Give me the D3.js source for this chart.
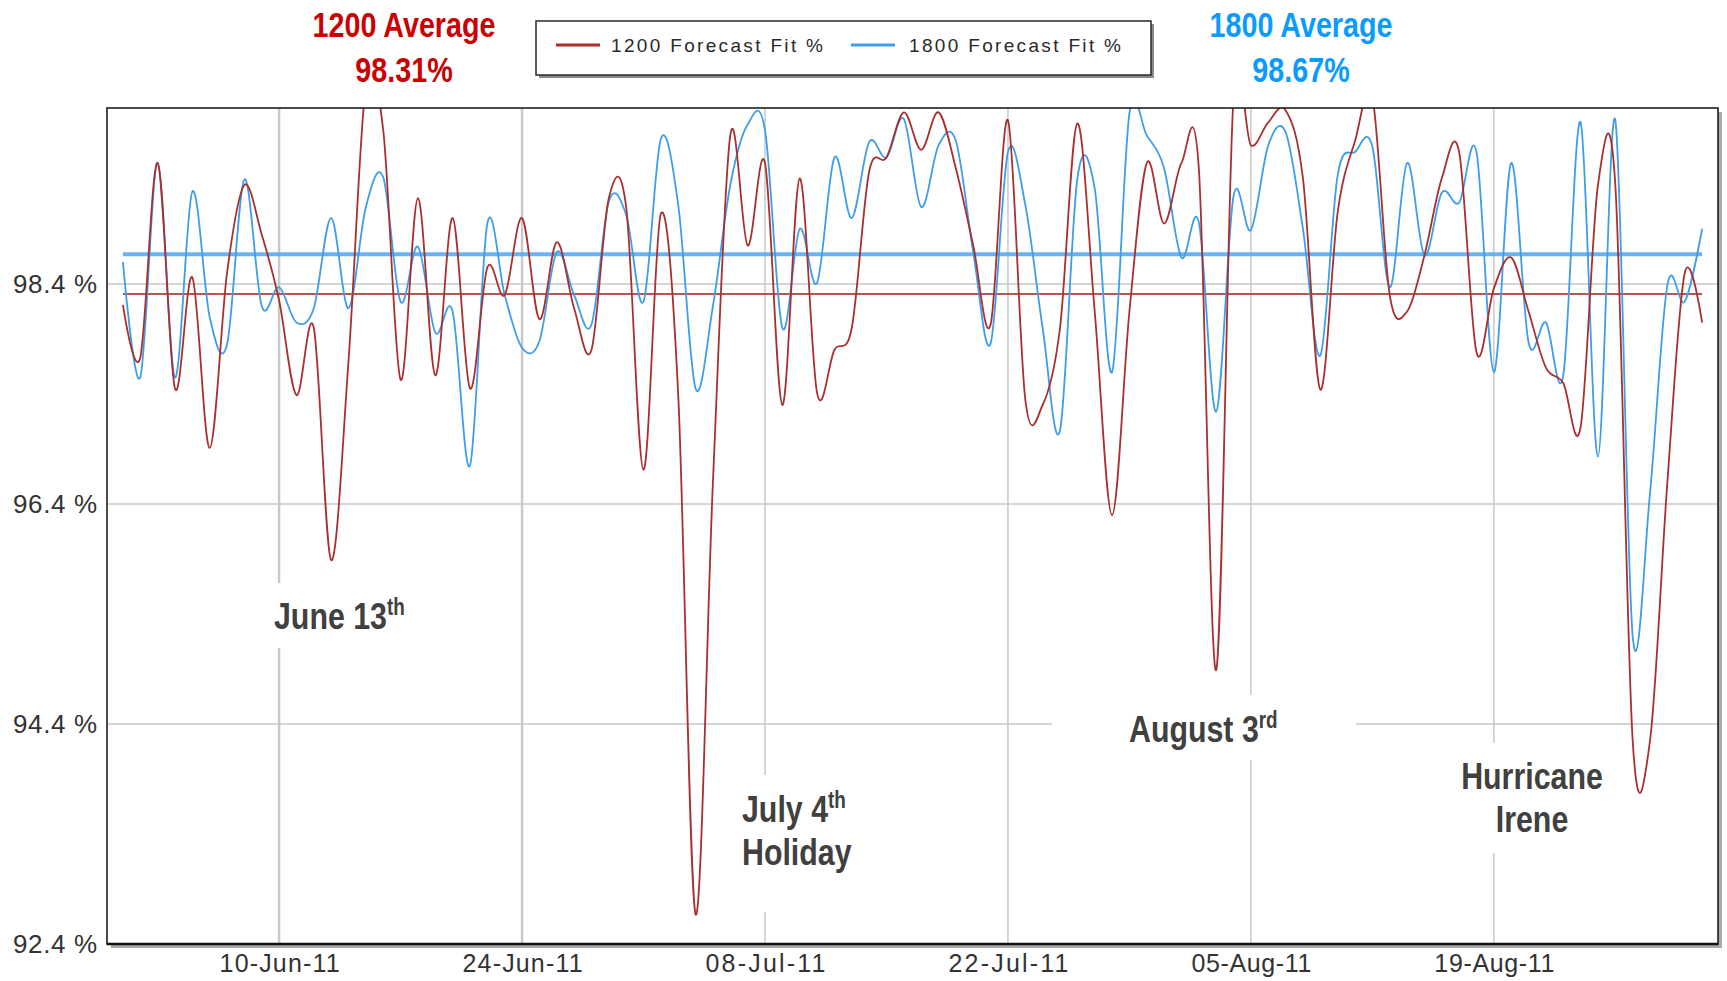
<!DOCTYPE html>
<html>
<head>
<meta charset="utf-8">
<script src="https://cdn.jsdelivr.net/npm/d3@7"></script>
<style>
  html, body { margin: 0; padding: 0; background: #fff; }
  svg { display: block; }
  text { font-family: "Liberation Sans", Arial, sans-serif; }
</style>
</head>
<body>
<svg id="chart" width="1727" height="981"></svg>
<script>
// --- 1. DATA ---
// one reading per day, 1-Jun-11 .. 31-Aug-11
var startDate = new Date(2011, 5, 1);

var fit1200 = [
  98.21, 97.73, 99.50, 97.45, 98.46, 96.91, 98.50, 99.30, 98.85, 98.25,   // 1-10 Jun
  97.39, 98.00, 95.89, 97.70, 100.20, 99.80, 97.53, 99.18, 97.57, 99.00,  // 11-20 Jun
  97.45, 98.55, 98.30, 99.00, 98.08, 98.78, 98.18, 97.80, 99.18, 99.10,   // 21-30 Jun
  96.71, 99.04, 97.39, 92.67, 96.60, 99.75, 98.75, 99.50, 97.30, 99.36,   // 1-10 Jul
  97.41, 97.80, 98.00, 99.42, 99.55, 99.96, 99.62, 99.96, 99.45, 98.75,   // 11-20 Jul
  98.03, 99.89, 97.35, 97.30, 98.00, 99.86, 98.15, 96.30, 98.15, 99.50,   // 21-30 Jul
  98.95, 99.50, 99.45, 94.89, 100.10, 99.66, 99.87, 99.98, 99.36, 97.44,  // 31 Jul - 9 Aug
  99.05, 99.70, 100.10, 98.30, 98.15, 98.66, 99.36, 99.60, 97.78, 98.36,  // 10-19 Aug
  98.64, 98.15, 97.64, 97.50, 97.10, 99.30, 99.30, 94.25, 94.25, 96.60,   // 20-29 Aug
  98.50, 98.05                                                            // 30-31 Aug
];

var fit1800 = [
  98.60, 97.55, 99.50, 97.55, 99.24, 98.10, 97.85, 99.35, 98.20, 98.37,
  98.05, 98.18, 99.00, 98.18, 99.10, 99.37, 98.24, 98.74, 97.96, 98.15,
  96.75, 98.95, 98.30, 97.82, 97.88, 98.69, 98.30, 98.03, 99.15, 99.03,
  98.24, 99.72, 99.12, 97.45, 98.20, 99.30, 99.85, 99.80, 98.00, 98.90,
  98.41, 99.55, 99.00, 99.69, 99.55, 99.90, 99.10, 99.66, 99.70, 98.69,
  97.86, 99.60, 99.12, 98.00, 97.07, 99.36, 99.27, 97.60, 99.95, 99.75,
  99.45, 98.64, 98.96, 97.24, 99.20, 98.89, 99.66, 99.78, 98.90, 97.75,
  99.39, 99.60, 99.65, 98.37, 99.50, 98.66, 99.23, 99.14, 99.60, 97.60,
  99.50, 97.87, 98.05, 97.57, 99.87, 96.83, 99.89, 95.20, 96.50, 98.39,
  98.24, 98.90
];

var avg1200 = 98.31;
var avg1800 = 98.67;

var seriesNames = ["1200 Forecast Fit %", "1800 Forecast Fit %"];
var yTicks = [92.4, 94.4, 96.4, 98.4];
var xTickDates = ["2011-06-10", "2011-06-24", "2011-07-08", "2011-07-22", "2011-08-05", "2011-08-19"];

// annotation text: [main, superscript] per line
var notes = [
  { lines: [["June 13", "th"]] },
  { lines: [["July 4", "th"], ["Holiday", ""]] },
  { lines: [["August 3", "rd"]] },
  { lines: [["Hurricane", ""], ["Irene", ""]] }
];

// --- 2. CONFIG ---
var plot = { left: 107, right: 1718, top: 108, bottom: 944 };

var colRed = "#a8302e";
var colBlue = "#3f9de9";
var colRedAvg = "#b04542";
var colBlueAvg = "#5aaaf0";
var colGrid = "#c9c9c9";
var colNote = "#404040";
var narrowX = 0.82;   // squeeze factor to get an "Arial Narrow" look

// white boxes + anchor for each note (pixel layout)
var notePlace = [
  { box: [262, 583, 158, 65], x: 274, y: 629, anchor: "start" },
  { box: [712, 775, 140, 137], x: 742, y: 822, anchor: "start" },
  { box: [1052, 695, 304, 65], x: 1129, y: 742, anchor: "start" },
  { box: [1450, 743, 165, 110], x: 1532, y: 789, anchor: "middle" }
];

var dates = fit1200.map(function(d, i) { return d3.timeDay.offset(startDate, i); });
var parse = d3.timeParse("%Y-%m-%d");

// --- 3. SCALES ---
var x = d3.scaleTime()
  .domain([d3.timeHour.offset(startDate, -22), d3.timeHour.offset(dates[dates.length - 1], 22)])
  .range([plot.left, plot.right]);

var y = d3.scaleLinear()
  .domain([92.4, 100])
  .range([plot.bottom, plot.top]);

var svg = d3.select("#chart");

// --- 4. FRAME ---
svg.append("rect")
  .attr("x", plot.left + 4).attr("y", plot.top + 4)
  .attr("width", plot.right - plot.left).attr("height", plot.bottom - plot.top)
  .attr("fill", "#a9a9a9");
svg.append("rect")
  .attr("x", plot.left).attr("y", plot.top)
  .attr("width", plot.right - plot.left).attr("height", plot.bottom - plot.top)
  .attr("fill", "#fff");

svg.append("defs").append("clipPath").attr("id", "plotClip")
  .append("rect")
  .attr("x", plot.left).attr("y", plot.top)
  .attr("width", plot.right - plot.left).attr("height", plot.bottom - plot.top);

// gridlines
var grid = svg.append("g");
grid.selectAll("line.h")
  .data(yTicks.slice(1))
  .enter().append("line")
  .attr("class", "h")
  .attr("x1", plot.left).attr("x2", plot.right)
  .attr("y1", function(d) { return y(d); }).attr("y2", function(d) { return y(d); })
  .attr("stroke", colGrid).attr("stroke-width", 1.5);

grid.selectAll("line.v")
  .data(xTickDates.map(parse))
  .enter().append("line")
  .attr("class", "v")
  .attr("x1", function(d) { return x(d); }).attr("x2", function(d) { return x(d); })
  .attr("y1", plot.top).attr("y2", plot.bottom)
  .attr("stroke", colGrid).attr("stroke-width", function(d, i) { return i < 2 ? 2.5 : 1.5; });

// --- 5. AXES ---
var xAxis = d3.axisBottom(x)
  .tickValues(xTickDates.map(parse))
  .tickFormat(d3.timeFormat("%d-%b-%y"))
  .tickSize(0).tickPadding(10);

svg.append("g")
  .attr("transform", "translate(0," + plot.bottom + ")")
  .call(xAxis)
  .call(function(g) { g.select(".domain").remove(); })
  .selectAll("text")
  .attr("font-family", "Liberation Sans, Arial, sans-serif")
  .attr("font-size", 25)
  .attr("fill", "#333")
  .attr("textLength", 120).attr("lengthAdjust", "spacing");

var yAxis = d3.axisLeft(y)
  .tickValues(yTicks)
  .tickFormat(function(d) { return d3.format(".1f")(d) + " %"; })
  .tickSize(0).tickPadding(10);

svg.append("g")
  .attr("transform", "translate(" + plot.left + ",0)")
  .call(yAxis)
  .call(function(g) { g.select(".domain").remove(); })
  .selectAll("text")
  .attr("font-family", "Liberation Sans, Arial, sans-serif")
  .attr("font-size", 26)
  .attr("fill", "#333")
  .attr("textLength", 84).attr("lengthAdjust", "spacing");

// --- 6. SERIES ---
var line = d3.line()
  .x(function(d) { return x(d.date); })
  .y(function(d) { return y(d.v); })
  .curve(d3.curveCardinal.tension(0));

var clipG = svg.append("g").attr("clip-path", "url(#plotClip)");

// average lines
clipG.append("line")
  .attr("x1", x(dates[0])).attr("x2", x(dates[dates.length - 1]))
  .attr("y1", y(avg1800)).attr("y2", y(avg1800))
  .attr("stroke", colBlueAvg).attr("stroke-width", 4).attr("opacity", 0.9);
clipG.append("line")
  .attr("x1", x(dates[0])).attr("x2", x(dates[dates.length - 1]))
  .attr("y1", y(avg1200)).attr("y2", y(avg1200))
  .attr("stroke", colRedAvg).attr("stroke-width", 2).attr("opacity", 0.9);

var series = [
  { values: fit1800, color: colBlue },
  { values: fit1200, color: colRed }
];

series.forEach(function(s) {
  clipG.append("path")
    .datum(s.values.map(function(v, i) { return { date: dates[i], v: v }; }))
    .attr("d", line)
    .attr("fill", "none")
    .attr("stroke", s.color)
    .attr("stroke-width", 1.8);
});

// --- 7. ANNOTATIONS ---
// narrow bold text: draw at origin, then squeeze horizontally
function narrowText(parent, px, py, size, anchor, color) {
  return parent.append("g")
    .attr("transform", "translate(" + px + "," + py + ") scale(" + narrowX + ",1)")
    .append("text")
    .attr("text-anchor", anchor)
    .attr("font-size", size).attr("font-weight", "bold")
    .attr("fill", color);
}

var noteG = svg.append("g");
notes.forEach(function(n, k) {
  var p = notePlace[k];
  noteG.append("rect")
    .attr("x", p.box[0]).attr("y", p.box[1])
    .attr("width", p.box[2]).attr("height", p.box[3])
    .attr("fill", "#fff");
  n.lines.forEach(function(parts, j) {
    var t = narrowText(noteG, p.x, p.y + j * 43, 37, p.anchor, colNote);
    t.append("tspan").text(parts[0]);
    if (parts[1]) {
      t.append("tspan").attr("dy", -14).attr("font-size", 23).text(parts[1]);
    }
  });
});

// plot border on top
svg.append("rect")
  .attr("x", plot.left).attr("y", plot.top)
  .attr("width", plot.right - plot.left).attr("height", plot.bottom - plot.top)
  .attr("fill", "none").attr("stroke", "#1e1e1e").attr("stroke-width", 1.6);
svg.append("line")
  .attr("x1", plot.left).attr("x2", plot.right)
  .attr("y1", plot.bottom).attr("y2", plot.bottom)
  .attr("stroke", "#111").attr("stroke-width", 2.5);

// --- 8. TITLES ---
var titles = [
  { label: "1200 Average", value: avg1200, color: "#cc0000", cx: 404 },
  { label: "1800 Average", value: avg1800, color: "#0a9bff", cx: 1301 }
];
titles.forEach(function(t) {
  narrowText(svg, t.cx, 37, 35, "middle", t.color).text(t.label);
  narrowText(svg, t.cx, 82, 35, "middle", t.color).text(d3.format(".2f")(t.value) + "%");
});

// --- 9. LEGEND ---
var lg = svg.append("g");
lg.append("rect").attr("x", 539).attr("y", 24).attr("width", 615).attr("height", 54).attr("fill", "#8a8a8a");
lg.append("rect").attr("x", 536).attr("y", 21).attr("width", 615).attr("height", 54)
  .attr("fill", "#fff").attr("stroke", "#2a2a2a").attr("stroke-width", 1.5);

var legendItems = [
  { name: seriesNames[0], color: colRed, x0: 556, tx: 611 },
  { name: seriesNames[1], color: colBlue, x0: 851, tx: 909 }
];
legendItems.forEach(function(d) {
  lg.append("line")
    .attr("x1", d.x0).attr("x2", d.x0 + 44)
    .attr("y1", 45).attr("y2", 45)
    .attr("stroke", d.color).attr("stroke-width", 3);
  lg.append("text")
    .attr("x", d.tx).attr("y", 52)
    .attr("font-size", 19)
    .attr("fill", "#2a2a2a")
    .attr("textLength", 212).attr("lengthAdjust", "spacing")
    .text(d.name);
});
</script>
</body>
</html>
